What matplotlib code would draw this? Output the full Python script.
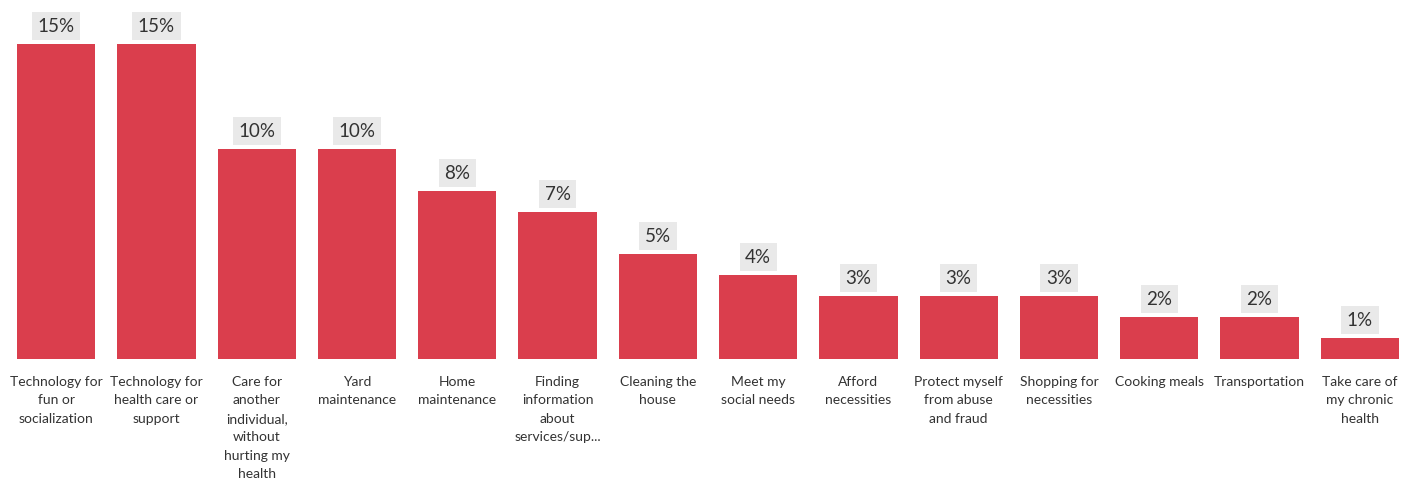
import matplotlib.pyplot as plt

categories = [
    "Technology for\nfun or\nsocialization",
    "Technology for\nhealth care or\nsupport",
    "Care for\nanother\nindividual,\nwithout\nhurting my\nhealth",
    "Yard\nmaintenance",
    "Home\nmaintenance",
    "Finding\ninformation\nabout\nservices/sup...",
    "Cleaning the\nhouse",
    "Meet my\nsocial needs",
    "Afford\nnecessities",
    "Protect myself\nfrom abuse\nand fraud",
    "Shopping for\nnecessities",
    "Cooking meals",
    "Transportation",
    "Take care of\nmy chronic\nhealth",
]
values = [15, 15, 10, 10, 8, 7, 5, 4, 3, 3, 3, 2, 2, 1]

plt.rcParams['font.family'] = ['Lato', 'DejaVu Sans']

fig = plt.figure(figsize=(14.15, 4.78), dpi=100)
ax = fig.add_axes([6 / 1415, 119 / 478, 1404 / 1415, 357 / 478])

x = list(range(len(values)))
bars = ax.bar(x, values, width=0.78, color='#DA3E4D')

for b, v in zip(bars, values):
    ax.text(b.get_x() + b.get_width() / 2, v + 0.85, f"{v}%",
            ha='center', va='center', fontsize=13.5, color='#333333',
            bbox=dict(boxstyle='square,pad=0.3', facecolor='#E9E9E9', edgecolor='none'))

ax.set_xlim(-0.5, len(values) - 0.5)
ax.set_ylim(0, 17)
ax.set_xticks(x)
ax.set_xticklabels(categories, fontsize=10, color='#333333', linespacing=1.65, va='top')
ax.tick_params(axis='x', length=0, pad=12)
ax.set_yticks([])
for s in ax.spines.values():
    s.set_visible(False)

fig.savefig('out.png', dpi=100)
